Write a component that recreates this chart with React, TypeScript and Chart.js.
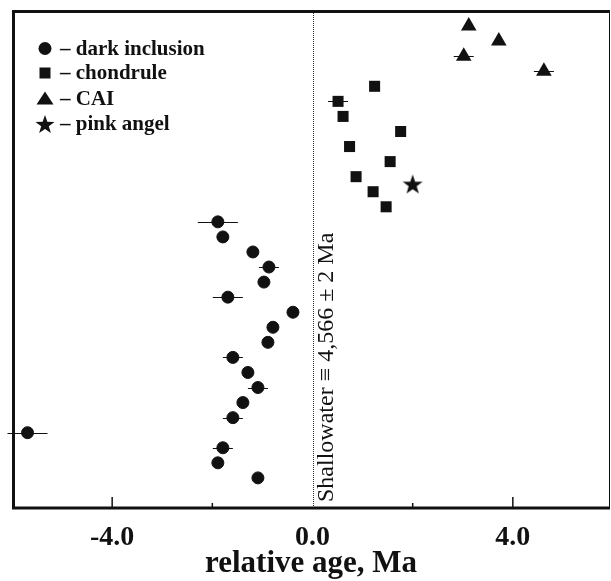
import React, { useEffect, useRef } from 'react';
import { Chart, registerables } from 'chart.js';

Chart.register(...registerables);

// ---- data ----
const caiX = [3.12, 3.72, 3.02, 4.62];
const caiRow = [1, 2, 3, 4];
const caiErr = [0, 0, 0.2, 0.2];

const chondruleX = [1.24, 0.51, 0.61, 1.76, 0.74, 1.55, 0.87, 1.21, 1.47];
const chondruleRow = [5, 6, 7, 8, 9, 10, 11, 12, 13];
const chondruleErr = [0, 0.2, 0, 0, 0, 0, 0, 0, 0];

const pinkX = [2.0];
const pinkRow = [11.5];
const pinkErr = [0];

const darkX = [-1.89, -1.79, -1.19, -0.87, -0.97, -1.69, -0.39, -0.79, -0.89, -1.59, -1.29, -1.09, -1.39, -1.59, -5.69, -1.79, -1.89, -1.09];
const darkRow = [14, 15, 16, 17, 18, 19, 20, 21, 22, 23, 24, 25, 26, 27, 28, 29, 30, 31];
const darkErr = [0.4, 0, 0, 0.2, 0, 0.3, 0, 0, 0, 0.2, 0, 0.2, 0, 0.2, 0.4, 0.2, 0, 0];

const xLabelTicks = [-4, 0, 4];
const xMinorTicks = [-2, 2];
const legendLabels = ['– dark inclusion', '– chondrule', '– CAI', '– pink angel'];
const refLabel = 'Shallowater ≡ 4,566 ± 2 Ma';
const axisTitle = 'relative age, Ma';

const INK = '#111111';
const SERIF = '"Liberation Serif", "Times New Roman", serif';

function starPath(ctx: CanvasRenderingContext2D, cx: number, cy: number, R: number, r: number) {
  ctx.beginPath();
  for (let i = 0; i < 10; i++) {
    const rad = i % 2 === 0 ? R : r;
    const a = -Math.PI / 2 + (i * Math.PI) / 5;
    const px = cx + rad * Math.cos(a);
    const py = cy + rad * Math.sin(a);
    if (i === 0) ctx.moveTo(px, py);
    else ctx.lineTo(px, py);
  }
  ctx.closePath();
}

function makeStarImage(): HTMLCanvasElement {
  const c = document.createElement('canvas');
  c.width = 22;
  c.height = 22;
  const g = c.getContext('2d')!;
  g.fillStyle = INK;
  starPath(g, 11, 11.8, 10.5, 4.2);
  g.fill();
  return c;
}

const pts = (xs: number[], rows: number[]) => xs.map((x, i) => ({ x, y: rows[i] }));

const errorBarPlugin = {
  id: 'errorBars',
  beforeDatasetsDraw(chart: any) {
    const { ctx } = chart;
    const xs = chart.scales.x;
    const ys = chart.scales.y;
    ctx.save();
    ctx.strokeStyle = INK;
    ctx.lineWidth = 1;
    chart.data.datasets.forEach((ds: any) => {
      (ds.data as any[]).forEach((p, i) => {
        const e = ds.xErr ? ds.xErr[i] : 0;
        if (!e) return;
        const y = Math.round(ys.getPixelForValue(p.y)) + 0.5;
        ctx.beginPath();
        ctx.moveTo(xs.getPixelForValue(p.x - e), y);
        ctx.lineTo(xs.getPixelForValue(p.x + e), y);
        ctx.stroke();
      });
    });
    ctx.restore();
  },
};

const framePlugin = {
  id: 'frame',
  beforeDatasetsDraw(chart: any) {
    const { ctx, chartArea: a } = chart;
    const xs = chart.scales.x;
    const x0 = Math.round(xs.getPixelForValue(0)) + 0.5;
    ctx.save();
    // reference line at 0
    ctx.strokeStyle = '#333';
    ctx.lineWidth = 1;
    ctx.setLineDash([1, 1]);
    ctx.beginPath();
    ctx.moveTo(x0, a.top);
    ctx.lineTo(x0, a.bottom);
    ctx.stroke();
    ctx.setLineDash([]);
    // vertical label
    ctx.fillStyle = INK;
    ctx.font = `24px ${SERIF}`;
    ctx.textAlign = 'left';
    ctx.textBaseline = 'alphabetic';
    ctx.translate(x0, a.bottom - 6);
    ctx.rotate(-Math.PI / 2);
    ctx.fillText(refLabel, 0, 19);
    ctx.restore();
  },
  afterDraw(chart: any) {
    const { ctx, chartArea: a } = chart;
    const xs = chart.scales.x;
    ctx.save();
    ctx.strokeStyle = INK;
    // tick marks (inward)
    ctx.lineWidth = 1.5;
    xLabelTicks.forEach((v) => {
      if (v === 0) return;
      const px = xs.getPixelForValue(v);
      ctx.beginPath();
      ctx.moveTo(px, a.bottom);
      ctx.lineTo(px, a.bottom - 11);
      ctx.stroke();
    });
    xMinorTicks.forEach((v) => {
      const px = xs.getPixelForValue(v);
      ctx.beginPath();
      ctx.moveTo(px, a.bottom);
      ctx.lineTo(px, a.bottom - 5);
      ctx.stroke();
    });
    // frame
    ctx.lineWidth = 3;
    ctx.beginPath();
    ctx.moveTo(a.left + 1.5, a.bottom);
    ctx.lineTo(a.left + 1.5, a.top);
    ctx.moveTo(a.left, a.top + 0.5);
    ctx.lineTo(a.right, a.top + 0.5);
    ctx.moveTo(a.left, a.bottom);
    ctx.lineTo(a.right, a.bottom);
    ctx.stroke();
    ctx.lineWidth = 1;
    ctx.beginPath();
    ctx.moveTo(a.right - 0.5, a.top);
    ctx.lineTo(a.right - 0.5, a.bottom);
    ctx.stroke();
    ctx.restore();
  },
};

const legendPlugin = {
  id: 'inlineLegend',
  afterDatasetsDraw(chart: any) {
    const { ctx, chartArea: a } = chart;
    const sx = a.left + 33;
    const tx = a.left + 48;
    const rows = [a.top + 37.5, a.top + 62, a.top + 87.5, a.top + 113];
    ctx.save();
    ctx.fillStyle = INK;
    // circle
    ctx.beginPath();
    ctx.arc(sx, rows[0], 6.5, 0, Math.PI * 2);
    ctx.fill();
    // square
    ctx.fillRect(sx - 5.5, rows[1] - 5.5, 11, 11);
    // triangle
    ctx.beginPath();
    ctx.moveTo(sx, rows[2] - 7);
    ctx.lineTo(sx + 8.5, rows[2] + 6);
    ctx.lineTo(sx - 8.5, rows[2] + 6);
    ctx.closePath();
    ctx.fill();
    // star
    starPath(ctx, sx, rows[3] + 1, 10, 4);
    ctx.fill();
    ctx.font = `bold 21px ${SERIF}`;
    ctx.textAlign = 'left';
    ctx.textBaseline = 'alphabetic';
    legendLabels.forEach((t, i) => ctx.fillText(t, tx, rows[i] + 6));
    ctx.restore();
  },
};

export default function App() {
  const ref = useRef<HTMLCanvasElement | null>(null);

  useEffect(() => {
    document.body.style.margin = '0';
    const canvas = ref.current;
    if (!canvas) return;
    const star = makeStarImage();
    const chart = new Chart(canvas, {
      type: 'scatter',
      data: {
        datasets: [
          {
            label: 'dark inclusion',
            data: pts(darkX, darkRow),
            xErr: darkErr,
            pointStyle: 'circle',
            pointRadius: 6,
            borderWidth: 1,
            backgroundColor: INK,
            borderColor: INK,
          } as any,
          {
            label: 'chondrule',
            data: pts(chondruleX, chondruleRow),
            xErr: chondruleErr,
            pointStyle: 'rect',
            pointRadius: 7.8,
            borderWidth: 0,
            backgroundColor: INK,
            borderColor: INK,
          } as any,
          {
            label: 'CAI',
            data: pts(caiX, caiRow),
            xErr: caiErr,
            pointStyle: 'triangle',
            pointRadius: 9,
            borderWidth: 0,
            backgroundColor: INK,
            borderColor: INK,
          } as any,
          {
            label: 'pink angel',
            data: pts(pinkX, pinkRow),
            xErr: pinkErr,
            pointStyle: star,
            pointRadius: 10,
            backgroundColor: INK,
            borderColor: INK,
          } as any,
        ],
      },
      options: {
        animation: false,
        responsive: false,
        devicePixelRatio: 1,
        layout: { autoPadding: false, padding: { left: 12, top: 11, right: 1, bottom: 0 } },
        plugins: { legend: { display: false }, tooltip: { enabled: false } },
        scales: {
          x: {
            type: 'linear',
            min: -6,
            max: 5.94,
            grid: { display: false },
            border: { display: false },
            afterBuildTicks: (scale: any) => {
              scale.ticks = xLabelTicks.map((v) => ({ value: v }));
            },
            afterFit: (scale: any) => {
              scale.height = 73;
              scale.paddingLeft = 0;
              scale.paddingRight = 0;
            },
            ticks: {
              autoSkip: false,
              maxRotation: 0,
              padding: 8,
              color: INK,
              font: { family: SERIF, size: 28, weight: 'bold', lineHeight: 1 },
              callback: (v: any) => Number(v).toFixed(1),
            },
            title: {
              display: true,
              text: axisTitle,
              color: INK,
              font: { family: SERIF, size: 31, weight: 'bold', lineHeight: 1 },
              padding: { top: 0, bottom: 2 },
            },
          },
          y: {
            type: 'linear',
            min: 0,
            max: 33,
            reverse: true,
            display: false,
          },
        },
      },
      plugins: [framePlugin, errorBarPlugin, legendPlugin],
    } as any);
    return () => chart.destroy();
  }, []);

  return (
    <div style={{ width: 611, height: 581, background: '#fff' }}>
      <canvas ref={ref} width={611} height={581} style={{ display: 'block' }} />
    </div>
  );
}
